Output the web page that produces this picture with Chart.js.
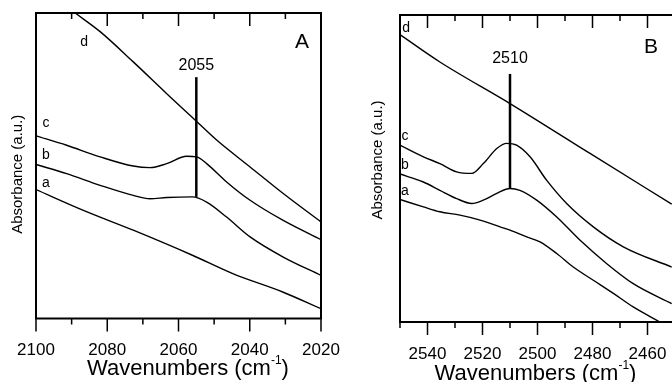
<!DOCTYPE html>
<html>
<head>
<meta charset="utf-8">
<script src="https://cdn.jsdelivr.net/npm/chart.js@4.4.0/dist/chart.umd.min.js"></script>
<style>
  html, body { margin: 0; padding: 0; background: #fff; overflow: hidden; }
  body { width: 672px; height: 382px; position: relative; }
  canvas { position: absolute; top: 0; }
  #chartA { left: 0; }
  #chartB { left: 340px; }
</style>
</head>
<body>
<canvas id="chartA" width="340" height="382"></canvas>
<canvas id="chartB" width="345" height="382"></canvas>
<script>
// Panel A, 2100-2020 cm-1 (absorbance in arbitrary units, 0-100)
const ticksA = [2100, 2080, 2060, 2040, 2020];
const waveA_a = [2100, 2086.7, 2072.7, 2056.1, 2044.6, 2030.6, 2020];
const absA_a  = [42.2, 35.4, 28.9, 20.7, 14.6, 8.6, 3.2];
const waveA_b = [2100, 2091.4, 2082.0, 2072.7, 2068.0, 2063.3, 2056.1, 2052.1, 2046.5, 2039.9, 2030.6, 2020];
const absA_b  = [50.4, 47.4, 43.6, 40.3, 39.2, 39.6, 39.8, 38.1, 33.2, 26.7, 20.1, 14.1];
const waveA_c = [2100, 2091.4, 2082.0, 2072.7, 2068.0, 2063.3, 2057.7, 2054.9, 2052.1, 2046.5, 2039.9, 2030.6, 2020];
const absA_c  = [59.8, 56.7, 52.9, 49.9, 49.4, 50.7, 53.1, 52.9, 50.7, 44.7, 38.7, 32.1, 25.8];
const waveA_d = [2089.0, 2082.0, 2072.7, 2063.3, 2056.1, 2049.3, 2039.9, 2030.6, 2020];
const absA_d  = [100, 93.9, 84.0, 73.6, 65.8, 58.4, 49.6, 40.9, 31.6];

// Panel B, 2550-2450 cm-1
const ticksB = [2540, 2520, 2500, 2480, 2460];
const waveB_a = [2550, 2541.5, 2535.5, 2528.2, 2520.9, 2513.6, 2510, 2503.9, 2499.1, 2493.0, 2487.0, 2479.7, 2472.4, 2465.2, 2455.5];
const absB_a  = [39.9, 37.5, 35.9, 34.8, 33.2, 31.0, 29.9, 27.7, 26.1, 22.3, 17.9, 13.6, 9.3, 4.9, 0];
const waveB_b = [2550, 2541.5, 2535.5, 2529.4, 2523.9, 2519.7, 2514.8, 2510, 2506.4, 2500.3, 2493.0, 2484.5, 2474.8, 2465.2, 2451.2];
const absB_b  = [48.2, 45.6, 42.9, 40.2, 38.6, 39.7, 41.9, 43.5, 42.9, 39.7, 34.2, 26.6, 19.0, 12.5, 6.0];
const waveB_c = [2550, 2541.5, 2535.5, 2529.4, 2523.9, 2519.7, 2514.8, 2511.2, 2507.6, 2502.7, 2496.7, 2489.4, 2479.7, 2468.8, 2451.2];
const absB_c  = [57.6, 53.8, 51.6, 48.9, 48.4, 51.6, 56.5, 58.2, 57.6, 53.8, 46.2, 38.6, 31.0, 24.5, 17.9];
const waveB_d = [2550, 2535.5, 2509.7, 2480.9, 2451.2];
const absB_d  = [93.6, 84.7, 71.0, 54.9, 38.4];

const curveNames = ['a', 'b', 'c', 'd'];
const FONT = "'Liberation Sans', Arial, Helvetica, sans-serif";

// frame, tick marks, band marker and text labels for one panel
const panelDecor = {
  id: 'panelDecor',
  afterDraw(chart, args, opts) {
    const { ctx, chartArea: area, scales: { x, y } } = chart;
    ctx.save();
    ctx.strokeStyle = '#000';
    ctx.fillStyle = '#000';

    ctx.lineWidth = 2;
    ctx.strokeRect(area.left, area.top, area.width, area.height);

    // major ticks every 20, minor every 10; top ones point in, bottom ones out
    ctx.lineWidth = 1.5;
    ctx.beginPath();
    for (let v = x.min; v <= x.max; v += 10) {
      const px = x.getPixelForValue(v);
      const len = v % 20 === 0 ? 13 : 6;
      ctx.moveTo(px, area.top);
      ctx.lineTo(px, area.top + len);
      ctx.moveTo(px, area.bottom);
      ctx.lineTo(px, area.bottom + len);
    }
    ctx.stroke();

    // band position marker
    const m = opts.marker;
    const mx = x.getPixelForValue(m.value);
    ctx.lineWidth = 2.5;
    ctx.beginPath();
    ctx.moveTo(mx, y.getPixelForValue(m.top));
    ctx.lineTo(mx, y.getPixelForValue(m.bottom));
    ctx.stroke();

    ctx.textAlign = 'center';
    ctx.textBaseline = 'middle';
    ctx.font = `16px ${FONT}`;
    ctx.fillText(String(m.value), mx, y.getPixelForValue(m.labelY));

    ctx.font = `14px ${FONT}`;
    opts.curveLabels.forEach((p, i) => {
      ctx.fillText(curveNames[i], x.getPixelForValue(p[0]), y.getPixelForValue(p[1]));
    });

    ctx.font = `21px ${FONT}`;
    ctx.fillText(opts.panel, x.getPixelForValue(opts.panelPos[0]), y.getPixelForValue(opts.panelPos[1]));

    // y axis title
    ctx.save();
    ctx.translate(area.left + opts.yTitle[0], (area.top + area.bottom) / 2 + opts.yTitle[1]);
    ctx.rotate(-Math.PI / 2);
    ctx.font = `15px ${FONT}`;
    ctx.fillText('Absorbance (a.u.)', 0, 0);
    ctx.restore();

    // x axis title with superscript
    ctx.textAlign = 'left';
    ctx.textBaseline = 'alphabetic';
    const main = 'Wavenumbers (cm', sup = '-1', tail = ')';
    ctx.font = `22px ${FONT}`;
    const w1 = ctx.measureText(main).width, w3 = ctx.measureText(tail).width;
    ctx.font = `12px ${FONT}`;
    const w2 = ctx.measureText(sup).width;
    const cx = (area.left + area.right) / 2 + opts.xTitle[0];
    const base = opts.xTitle[1];
    let tx = cx - (w1 + w2 + w3) / 2;
    ctx.font = `22px ${FONT}`;
    ctx.fillText(main, tx, base);
    tx += w1;
    ctx.font = `12px ${FONT}`;
    ctx.fillText(sup, tx, base - 11);
    tx += w2;
    ctx.font = `22px ${FONT}`;
    ctx.fillText(tail, tx, base);
    ctx.restore();
  }
};

function makePanel(id, waves, absorb, xMin, xMax, tickValues, pad, axisHeight, decor) {
  return new Chart(document.getElementById(id), {
    type: 'line',
    data: {
      datasets: waves.map((w, i) => ({
        data: w.map((v, j) => ({ x: v, y: absorb[i][j] })),
        borderColor: '#000',
        borderWidth: 1.4,
        pointRadius: 0,
        cubicInterpolationMode: 'monotone',
        fill: false
      }))
    },
    options: {
      responsive: false,
      animation: false,
      layout: { padding: pad },
      plugins: {
        legend: { display: false },
        tooltip: { enabled: false },
        panelDecor: decor
      },
      scales: {
        x: {
          type: 'linear',
          reverse: true,
          min: xMin,
          max: xMax,
          grid: { display: true, drawOnChartArea: false, tickLength: 13, tickColor: 'rgba(0,0,0,0)' },
          border: { display: false },
          afterBuildTicks: s => {
            s.ticks = tickValues.map(v => ({ value: v }));
          },
          ticks: {
            autoSkip: false,
            maxRotation: 0,
            padding: 9,
            color: '#000',
            font: { family: FONT, size: 17 },
            callback: v => String(v)
          },
          afterFit: s => {
            s.height = axisHeight;
            s.paddingLeft = 0;
            s.paddingRight = 0;
          }
        },
        y: { display: false, min: 0, max: 100 }
      }
    },
    plugins: [panelDecor]
  });
}

makePanel('chartA',
  [waveA_a, waveA_b, waveA_c, waveA_d],
  [absA_a, absA_b, absA_c, absA_d],
  2020, 2100, ticksA,
  { left: 36, right: 19, top: 13, bottom: 0 }, 63.5,
  {
    panel: 'A', panelPos: [2025.3, 90.3],
    marker: { value: 2055, top: 79, bottom: 39.8, labelY: 82.8 },
    curveLabels: [[2097.2, 44.3], [2097.2, 53.4], [2097.2, 63.9], [2086.5, 90.5]],
    yTitle: [-18, 8.5],
    xTitle: [9.5, 375]
  });

makePanel('chartB',
  [waveB_a, waveB_b, waveB_c, waveB_d],
  [absB_a, absB_b, absB_c, absB_d],
  2450, 2550, ticksB,
  { left: 60, right: 10, top: 15, bottom: 0 }, 60,
  {
    panel: 'B', panelPos: [2458.7, 89.4],
    marker: { value: 2510, top: 80.8, bottom: 43.5, labelY: 85.7 },
    curveLabels: [[2548.2, 42.6], [2548.2, 51.1], [2548.2, 60.5], [2547.8, 95.8]],
    yTitle: [-22, -8.5],
    xTitle: [-2, 380]
  });
</script>
</body>
</html>
